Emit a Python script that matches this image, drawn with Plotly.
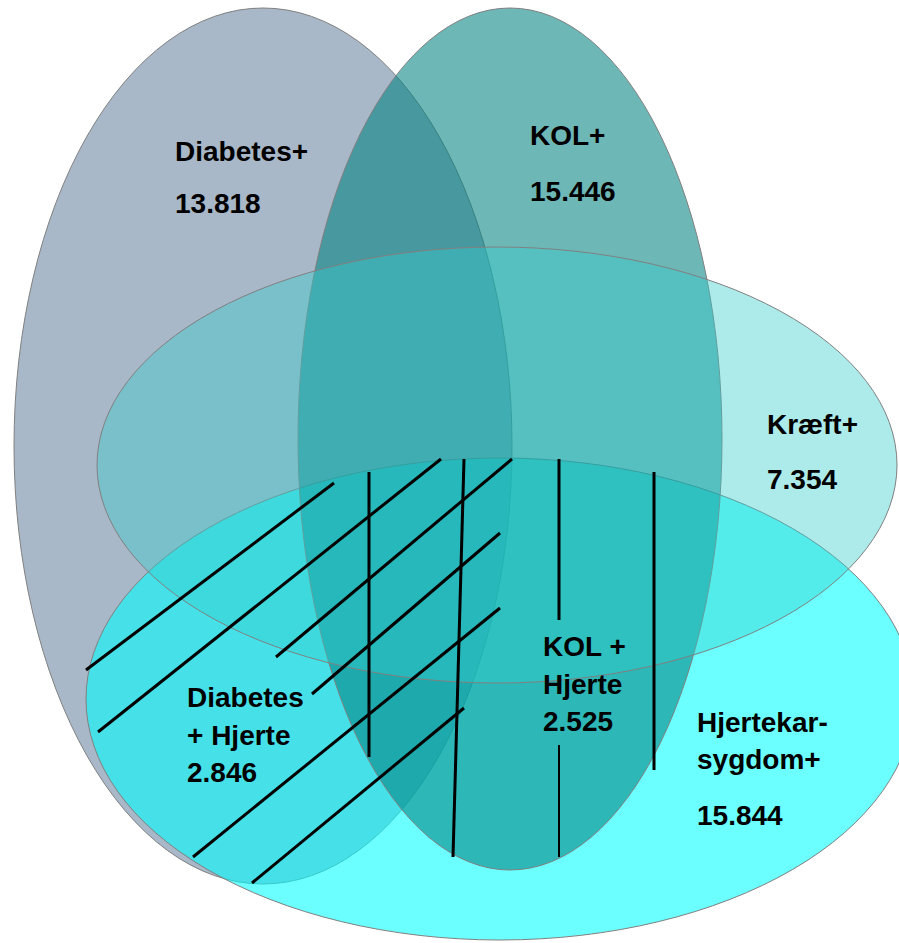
import plotly.graph_objects as go

# ---- data ----
sets = ["Diabetes+", "KOL+", "Kræft+", "Hjertekarsygdom+"]
set_values = ["13.818", "15.446", "7.354", "15.844"]
overlap_names = ["Diabetes + Hjerte", "KOL + Hjerte"]
overlap_values = ["2.846", "2.525"]

# ---- geometry (pixel coordinates on a 899x943 canvas) ----
# drawing order: Diabetes, Hjerte, KOL, Kræft
ellipse_order = ["Diabetes+", "Hjertekarsygdom+", "KOL+", "Kræft+"]
ellipse_cx = {"Diabetes+": 263, "Hjertekarsygdom+": 500, "KOL+": 510, "Kræft+": 497}
ellipse_cy = {"Diabetes+": 446, "Hjertekarsygdom+": 699, "KOL+": 439, "Kræft+": 465}
ellipse_rx = {"Diabetes+": 249, "Hjertekarsygdom+": 414, "KOL+": 212, "Kræft+": 400}
ellipse_ry = {"Diabetes+": 438, "Hjertekarsygdom+": 241, "KOL+": 431, "Kræft+": 218}
ellipse_fill = {"Diabetes+": "rgb(168,184,200)", "Hjertekarsygdom+": "rgba(0,255,255,0.58)",
                "KOL+": "rgba(0,128,128,0.57)", "Kræft+": "rgba(51,204,204,0.40)"}

# hatching segments (x0, y0, x1, y1, width)
hatch_x0 = [86, 98, 276, 312, 193, 252, 369, 464, 559, 559, 654]
hatch_y0 = [670, 732, 657, 694, 857, 883, 472, 459, 459, 745, 472]
hatch_x1 = [334, 441, 512, 500, 500, 464, 369, 453, 559, 559, 654]
hatch_y1 = [483, 459, 459, 533, 608, 708, 757, 857, 620, 857, 770]
hatch_w = [3, 3, 3, 3, 3, 3, 3, 3, 3, 2, 3]

# text lines: (text, x, y)
text_lines = [
    (sets[0], 173, 151), (set_values[0], 173, 203),
    (sets[1], 528, 135), (set_values[1], 528, 191),
    (sets[2], 765, 424), (set_values[2], 765, 479),
    ("Hjertekar-", 695, 722), ("sygdom+", 695, 759), (set_values[3], 695, 815),
    ("Diabetes", 185, 697), ("+ Hjerte", 185, 735), (overlap_values[0], 185, 772),
    ("KOL +", 541, 646), ("Hjerte", 541, 684), (overlap_values[1], 541, 721),
]

W, H = 899, 943

fig = go.Figure()
fig.add_trace(go.Scatter(x=[0, W], y=[0, H], mode="markers",
                         marker=dict(opacity=0), hoverinfo="skip", showlegend=False))

for name in ellipse_order:
    cx, cy, rx, ry = ellipse_cx[name], ellipse_cy[name], ellipse_rx[name], ellipse_ry[name]
    fig.add_shape(type="circle", xref="x", yref="y",
                  x0=cx - rx, x1=cx + rx, y0=cy - ry, y1=cy + ry,
                  fillcolor=ellipse_fill[name],
                  line=dict(color="rgb(128,128,128)", width=1))

for x0, y0, x1, y1, w in zip(hatch_x0, hatch_y0, hatch_x1, hatch_y1, hatch_w):
    fig.add_shape(type="line", xref="x", yref="y", x0=x0, y0=y0, x1=x1, y1=y1,
                  line=dict(color="black", width=w))

for t, x, y in text_lines:
    fig.add_annotation(x=x, y=y, xref="x", yref="y", text=f"<b>{t}</b>",
                       showarrow=False, xanchor="left", yanchor="middle",
                       font=dict(family="Liberation Sans, Arial, sans-serif", size=28, color="black"))

fig.update_layout(
    width=W, height=H,
    margin=dict(l=0, r=0, t=0, b=0),
    paper_bgcolor="white", plot_bgcolor="white",
    xaxis=dict(range=[0, W], visible=False, fixedrange=True),
    yaxis=dict(range=[H, 0], visible=False, fixedrange=True),
    showlegend=False,
)

fig.write_html("out.html", config={"displayModeBar": False},
               post_script="document.body.style.margin='0';document.body.style.overflow='hidden';")
